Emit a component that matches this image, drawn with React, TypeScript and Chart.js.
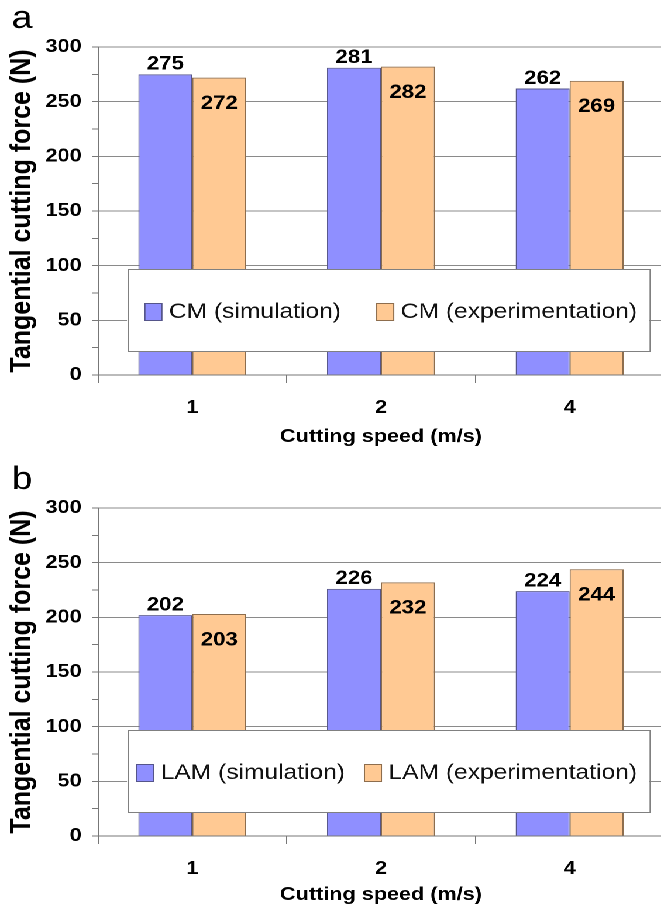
import React, { useEffect, useRef } from 'react';
import { Chart, registerables } from 'chart.js';

Chart.register(...registerables);

// ---------- data ----------
const speeds = ['1', '2', '4'];
const cmSimulation = [275, 281, 262];
const cmExperimentation = [272, 282, 269];
const lamSimulation = [202, 226, 224];
const lamExperimentation = [203, 232, 244];
const cmLabels = ['CM (simulation)', 'CM (experimentation)'];
const lamLabels = ['LAM (simulation)', 'LAM (experimentation)'];
const panelLetters = ['a', 'b'];
const yMin = 0;
const yMax = 300;
const yLabelStep = 50;
const yMinorStep = 25;
const xTitle = 'Cutting speed (m/s)';
const yTitle = 'Tangential cutting force (N)';

// ---------- style ----------
const S = 1.17; // horizontal stretch of the original figure
const FONT = '"Liberation Sans", Arial, Helvetica, sans-serif';
const GRID = '#8a8a8a';
const AXIS = '#777777';
const BLUE = '#8f8fff';
const BLUE_EDGE = '#55558a';
const ORANGE = '#ffc993';
const ORANGE_EDGE = '#8d6d4d';
const CW = 575; // canvas width before stretch
const CH = 452;

const valueLabels = {
  id: 'valueLabels',
  afterDatasetsDraw(chart: any) {
    const ctx = chart.ctx;
    ctx.save();
    ctx.font = `bold 19px ${FONT}`;
    ctx.fillStyle = '#000';
    ctx.textAlign = 'center';
    ctx.textBaseline = 'middle';
    chart.data.datasets.forEach((ds: any, di: number) => {
      const meta = chart.getDatasetMeta(di);
      meta.data.forEach((bar: any, i: number) => {
        const y = di === 0 ? bar.y - 10 : bar.y + 26;
        ctx.fillText(String(ds.data[i]), bar.x, y);
      });
    });
    ctx.restore();
  },
};

const boxLegend = {
  id: 'boxLegend',
  afterDatasetsDraw(chart: any) {
    const ctx = chart.ctx;
    const L = 127 / S, R = 649 / S, T = 269, B = 351;
    const cy = 312;
    ctx.save();
    ctx.fillStyle = '#fff';
    ctx.fillRect(L, T, R - L, B - T);
    ctx.strokeStyle = '#808080';
    ctx.lineWidth = 1;
    ctx.strokeRect(Math.round(L) + 0.5, T + 0.5, R - L, B - T);
    ctx.font = `21px ${FONT}`;
    ctx.textBaseline = 'middle';
    ctx.textAlign = 'left';
    const sqW = 17 / S, sqH = 17, gap = 6;
    const items = chart.data.datasets.map((ds: any) => ({
      text: ds.label, fill: ds.backgroundColor, edge: ds.borderColor,
      w: ctx.measureText(ds.label).width,
    }));
    const content = items.reduce((a: number, it: any) => a + sqW + gap + it.w, 0);
    const rightPad = 12 / S;
    const g = (R - L - rightPad - content) / 1.5;
    let x = L + g / 2;
    items.forEach((it: any) => {
      ctx.fillStyle = it.fill;
      ctx.fillRect(x, cy - sqH / 2, sqW, sqH);
      ctx.strokeStyle = it.edge;
      ctx.strokeRect(x, cy - sqH / 2, sqW, sqH);
      ctx.fillStyle = '#111';
      ctx.fillText(it.text, x + sqW + gap, cy);
      x += sqW + gap + it.w + g;
    });
    ctx.restore();
  },
};

function makeLetterPlugin(letter: string) {
  return {
    id: 'panelLetter',
    afterDraw(chart: any) {
      const ctx = chart.ctx;
      ctx.save();
      ctx.font = `32px ${FONT}`;
      ctx.fillStyle = '#000';
      ctx.textBaseline = 'alphabetic';
      ctx.textAlign = 'left';
      ctx.fillText(letter, 10, 28);
      ctx.restore();
    },
  };
}

function Panel({ letter, labels, sim, exp, top, titlePad }: any) {
  const ref = useRef<HTMLCanvasElement>(null);
  useEffect(() => {
    if (!ref.current) return;
    const tickFont = { family: FONT, size: 18.5, weight: 'bold' as const };
    const chart = new Chart(ref.current, {
      type: 'bar',
      data: {
        labels: speeds,
        datasets: [
          { label: labels[0], data: sim, backgroundColor: BLUE, borderColor: BLUE_EDGE, borderWidth: 1, categoryPercentage: 0.572, barPercentage: 1 },
          { label: labels[1], data: exp, backgroundColor: ORANGE, borderColor: ORANGE_EDGE, borderWidth: 1, categoryPercentage: 0.572, barPercentage: 1 },
        ],
      },
      options: {
        animation: false,
        responsive: false,
        devicePixelRatio: 2,
        layout: { padding: { top: 47, right: 7.5, left: 0, bottom: 0 } },
        plugins: { legend: { display: false }, tooltip: { enabled: false }, title: { display: false } },
        scales: {
          x: {
            offset: true,
            grid: { offset: true, drawOnChartArea: false, color: AXIS, tickColor: AXIS, tickLength: 8 },
            border: { color: AXIS, width: 1 },
            ticks: { font: tickFont, color: '#000', padding: 14, maxRotation: 0 },
            title: { display: true, text: xTitle, font: tickFont, color: '#000', padding: { top: 0, bottom: titlePad } },
            afterFit: (s: any) => { s.height = 77; },
          },
          y: {
            min: yMin,
            max: yMax,
            ticks: {
              stepSize: yMinorStep,
              autoSkip: false,
              font: tickFont,
              color: '#000',
              padding: 9,
              callback: (v: any) => (Number(v) % yLabelStep === 0 ? String(v) : ''),
            },
            grid: {
              color: (c: any) => (c.tick && c.tick.value % yLabelStep === 0 ? GRID : 'rgba(0,0,0,0)'),
              tickColor: AXIS,
              tickLength: 5,
            },
            border: { color: AXIS, width: 1 },
            title: { display: true, text: yTitle, font: { family: FONT, size: 25, weight: 'bold' }, color: '#000', padding: { top: 4, bottom: 0 } },
            afterFit: (s: any) => { s.width = 98 / S; },
          },
        },
      } as any,
      plugins: [valueLabels, boxLegend, makeLetterPlugin(letter)],
    });
    return () => chart.destroy();
  }, [letter, labels, sim, exp, titlePad]);
  return (
    <canvas
      ref={ref}
      width={CW}
      height={CH}
      style={{ position: 'absolute', left: 0, top }}
    />
  );
}

export default function App() {
  return (
    <div style={{ position: 'fixed', left: 0, top: 0, width: 661, height: 904, overflow: 'hidden', background: '#fff' }}>
      <div style={{ position: 'absolute', left: 0, top: 0, width: CW, height: 913, transform: `scaleX(${S})`, transformOrigin: '0 0' }}>
        <Panel letter={panelLetters[0]} labels={cmLabels} sim={cmSimulation} exp={cmExperimentation} top={0} titlePad={4} />
        <Panel letter={panelLetters[1]} labels={lamLabels} sim={lamSimulation} exp={lamExperimentation} top={461} titlePad={7} />
      </div>
    </div>
  );
}
